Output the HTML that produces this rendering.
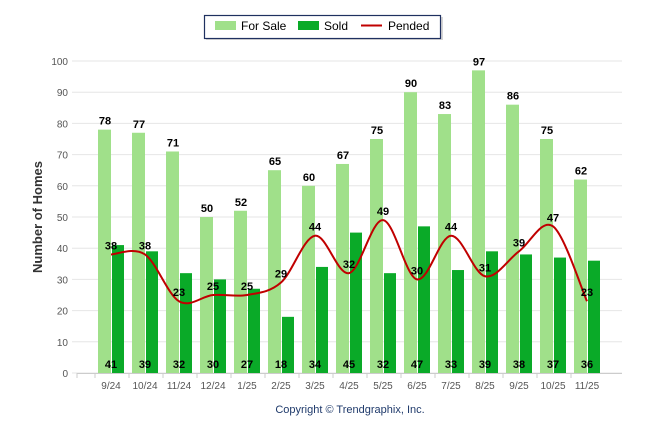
<!DOCTYPE html>
<html><head><meta charset="utf-8"><style>
body{margin:0;background:#fff;}
svg{display:block;font-family:"Liberation Sans",Arial,sans-serif;}
</style></head><body>
<svg id="c" width="646" height="434" xmlns="http://www.w3.org/2000/svg"></svg>
<script>
var s='';
var fs=[78,77,71,50,52,65,60,67,75,90,83,97,86,75,62];
var sd=[41,39,32,30,27,18,34,45,32,47,33,39,38,37,36];
var pd=[38,38,23,25,25,29,44,32,49,30,44,31,39,47,23];
var lb=['9/24','10/24','11/24','12/24','1/25','2/25','3/25','4/25','5/25','6/25','7/25','8/25','9/25','10/25','11/25'];
function Y(v){return 373-3.12*v;}
for(var g=0;g<=100;g+=10){var y=Y(g);
 s+='<line x1="72" x2="622" y1="'+y+'" y2="'+y+'" stroke="#e6e6e6" stroke-width="1"/>';
 s+='<text x="68" y="'+(y+4)+'" font-size="10" fill="#555" text-anchor="end">'+g+'</text>';}
s+='<line x1="77" x2="622" y1="373.5" y2="373.5" stroke="#ccc"/>';
for(var i=0;i<15;i++){var cx=112+34*i;
 s+='<line x1="'+(cx-17)+'" x2="'+(cx-17)+'" y1="373" y2="378" stroke="#ccc"/>';
 s+='<rect x="'+(cx-14)+'" y="'+Y(fs[i])+'" width="13" height="'+(3.12*fs[i])+'" fill="#a0e08a"/>';
 s+='<rect x="'+cx+'" y="'+Y(sd[i])+'" width="12" height="'+(3.12*sd[i])+'" fill="#0aaa28"/>';
 s+='<text x="'+(cx-1)+'" y="389" font-size="10" fill="#555" text-anchor="middle">'+lb[i]+'</text>';
}
s+='<line x1="77" x2="77" y1="373" y2="378" stroke="#ccc"/>';
var P=pd.map(function(v,i){return [111+34*i,Y(v)];});
var d='M'+P[0][0]+' '+P[0][1];
for(var i=0;i<P.length-1;i++){
 var p0=P[Math.max(i-1,0)],p1=P[i],p2=P[i+1],p3=P[Math.min(i+2,P.length-1)];
 var c1=[p1[0]+(p2[0]-p0[0])/6,p1[1]+(p2[1]-p0[1])/6];
 var c2=[p2[0]-(p3[0]-p1[0])/6,p2[1]-(p3[1]-p1[1])/6];
 d+=' C'+c1[0]+' '+c1[1]+' '+c2[0]+' '+c2[1]+' '+p2[0]+' '+p2[1];}
s+='<path d="'+d+'" fill="none" stroke="#c00000" stroke-width="2"/>';
for(var i=0;i<15;i++){var cx=112+34*i;
 s+='<text x="'+(cx-7)+'" y="'+(Y(fs[i])-5)+'" font-size="11" font-weight="bold" fill="#000" text-anchor="middle">'+fs[i]+'</text>';
 s+='<text x="'+(cx-1)+'" y="368" font-size="11" font-weight="bold" fill="#000" text-anchor="middle">'+sd[i]+'</text>';
 s+='<text x="'+(cx-1)+'" y="'+(Y(pd[i])-5)+'" font-size="11" font-weight="bold" fill="#000" text-anchor="middle">'+pd[i]+'</text>';
}
s+='<text transform="translate(42,217) rotate(-90)" font-size="13" font-weight="bold" fill="#333" text-anchor="middle">Number of Homes</text>';
s+='<text x="350" y="413" font-size="11" fill="#1f3a6b" text-anchor="middle">Copyright © Trendgraphix, Inc.</text>';
s+='<rect x="206" y="17" width="237" height="23" fill="#999" opacity="0.4"/>';
s+='<rect x="204.5" y="15.5" width="236" height="23" fill="#fff" stroke="#1f3060" stroke-width="1.2"/>';
s+='<rect x="215" y="21" width="21" height="9" fill="#a0e08a"/>';
s+='<text x="241" y="30" font-size="12" fill="#000">For Sale</text>';
s+='<rect x="298" y="21" width="21" height="9" fill="#0aaa28"/>';
s+='<text x="324" y="30" font-size="12" fill="#000">Sold</text>';
s+='<line x1="361" x2="382" y1="25.5" y2="25.5" stroke="#c00000" stroke-width="2"/>';
s+='<text x="388" y="30" font-size="12" fill="#000">Pended</text>';
document.getElementById('c').innerHTML=s;
</script>
</body></html>
